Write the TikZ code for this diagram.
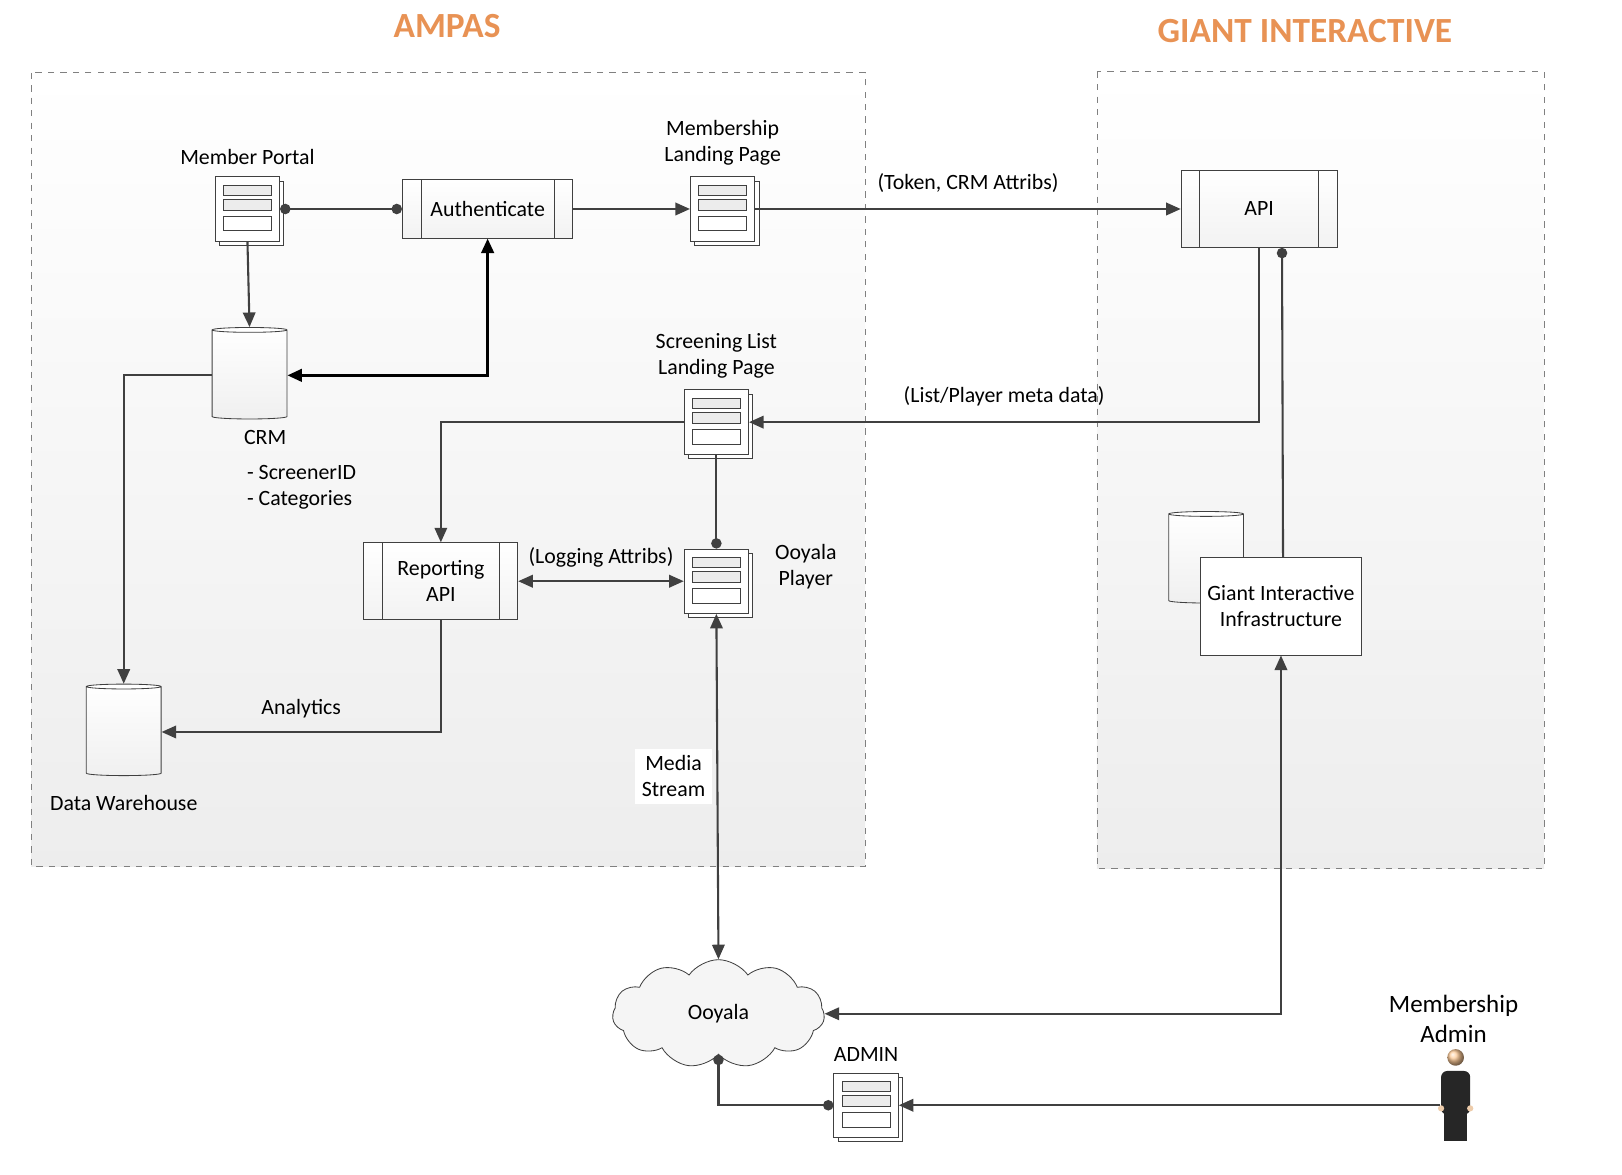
\documentclass[tikz,border=0pt]{standalone}
\usepackage{fontspec}
\setmainfont{Carlito}
\usetikzlibrary{positioning,shapes.geometric,shapes.symbols,shadows,arrows.meta,calc}
\definecolor{titleorange}{RGB}{232,146,84}
\definecolor{linegray}{RGB}{64,64,64}
\tikzset{
  zone/.style={draw=gray, dashed, top color=white, bottom color=gray!14},
  title/.style={text=titleorange, font=\bfseries\fontsize{17}{19}\selectfont},
  page/.style={draw=linegray, fill=white, minimum width=31pt, minimum height=31pt,
    copy shadow={shadow xshift=2pt, shadow yshift=-2pt, draw=linegray, fill=white},
    path picture={
      \draw[linegray, fill=gray!15] ([xshift=4pt,yshift=-4pt]path picture bounding box.north west) rectangle ++(23pt,-5pt);
      \draw[linegray, fill=gray!15] ([xshift=4pt,yshift=-11pt]path picture bounding box.north west) rectangle ++(23pt,-5pt);
      \draw[linegray, fill=white] ([xshift=4pt,yshift=-19pt]path picture bounding box.north west) rectangle ++(23pt,-7pt);}},
  process/.style={draw=linegray, top color=white, bottom color=gray!10, minimum height=#1, align=center,
    path picture={
      \draw[linegray] ([xshift=9pt]path picture bounding box.north west) -- ([xshift=9pt]path picture bounding box.south west);
      \draw[linegray] ([xshift=-9pt]path picture bounding box.north east) -- ([xshift=-9pt]path picture bounding box.south east);}},
  db/.style={cylinder, shape border rotate=90, aspect=0.35, draw=linegray, top color=white, bottom color=gray!12,
    minimum width=36pt, minimum height=44pt},
  txt/.style={align=center, font=\fontsize{10.5}{12.5}\selectfont},
  link/.style={draw=linegray, line width=1pt},
  strong/.style={draw=black, line width=1.4pt},
  tip/.style={-{Triangle[length=7pt,width=6pt]}},
  both/.style={{Triangle[length=7pt,width=6pt]}-{Triangle[length=7pt,width=6pt]}},
  dot/.style={{Circle[length=5pt]}-{Circle[length=5pt]}},
}
\begin{document}
\begin{tikzpicture}[x=0.5pt,y=-0.5pt, font=\fontsize{10.5}{12.5}\selectfont]
\useasboundingbox (0,0) rectangle (1560,1130);
% zones
\draw[zone] (30,70) rectangle (832,833);
\draw[zone] (1055,69) rectangle (1485,835);
\node[title] (ampas) at (430,25) {AMPAS};
\node[title] (giant) at (1255,30) {GIANT INTERACTIVE};

% AMPAS side
\node[page] (portal) at (238,201) {};
\node[txt, above=2pt of portal] {Member Portal};
\node[process=28pt, minimum width=82pt] (auth) at (469,201) {Authenticate};
\node[page] (landing) at (695,201) {};
\node[txt, above=2pt of landing] {Membership\\Landing Page};
\node[db] (crm) at (240,361) {};
\node[txt] (crmtxt) at (255,421) {CRM};
\node[txt, align=left] (crmattr) at (290,469) {- ScreenerID\\- Categories};
\node[page] (screening) at (689,406) {};
\node[txt, above=2pt of screening] {Screening List\\Landing Page};
\node[process=37pt, minimum width=74pt] (reporting) at (424,559) {Reporting\\API};
\node[page] (player) at (689,559) {};
\node[txt] (playertxt) at (775,545) {Ooyala\\Player};
\node[db] (warehouse) at (119,704) {};
\node[txt] (dwtxt) at (119,772) {Data Warehouse};

% Giant Interactive side
\node[process=37pt, minimum width=75pt] (api) at (1211,201) {API};
\node[db] (gidb) at (1160,538) {};
\node[draw=linegray, fill=white, minimum width=75pt, minimum height=47pt, txt] (infra) at (1232,583) {Giant Interactive\\Infrastructure};

% outside
\node[cloud, cloud puffs=11, cloud puff arc=110, aspect=2, draw=linegray, fill=gray!8,
  minimum width=102pt, minimum height=52pt] (ooyala) at (691,975) {Ooyala};
\node[page] (admin) at (833,1063) {};
\node[txt, above=2pt of admin] {ADMIN};
\node[inner sep=0pt, minimum width=15pt, minimum height=34pt] (person) at (1400,1063) {};
\fill[black!85, rounded corners=3pt] (1386,1030) rectangle (1414,1072);
\fill[black!85] (1389,1068) rectangle (1411,1097);
\fill[orange!30!brown!40!white] (1386,1066) circle (3) (1414,1066) circle (3);
\shade[ball color=orange!40] (1400,1017) circle (8);
\node[txt, font=\fontsize{12}{14}\selectfont] (persontxt) at (1398,980) {Membership\\Admin};

% connectors
\draw[link, dot] (portal.east) -- (auth.west);
\draw[link, tip] (auth.east) -- (landing.west);
\draw[link, tip] (landing.east) -- node[above=4pt, txt] {(Token, CRM Attribs)} (api.west);
\draw[link, tip] (portal.south) -- (crm.top);
\draw[strong, both] (auth.south) |- (crm.east);
\draw[link, tip] (crm.west) -| (warehouse.top);
\draw[link, tip] (api.south) |- node[pos=0.75, above=4pt, txt] {(List/Player meta data)} (screening.east);
\draw[link, {Circle[length=5pt]}-] ([xshift=11pt]api.south) -- ([xshift=1pt]infra.north);
\draw[link, tip] (screening.west) -| (reporting.north);
\draw[link, -{Circle[length=5pt]}] (screening.south) -- (player.north);
\draw[link, both] (reporting.east) -- node[above=3pt, txt] {(Logging Attribs)} (player.west);
\draw[link, tip] (reporting.south) |- node[pos=0.75, above=3pt, txt] {Analytics} (warehouse.east);
\draw[link, both] (player.south) -- node[pos=0.47, left=2pt, fill=white, txt] {Media\\Stream} (ooyala.north);
\draw[link, both] (ooyala.east) -| (infra.south);
\draw[link, dot] (ooyala.south) |- (admin.west);
\draw[link, tip] (person.west) -- (admin.east);
\end{tikzpicture}
\end{document}
